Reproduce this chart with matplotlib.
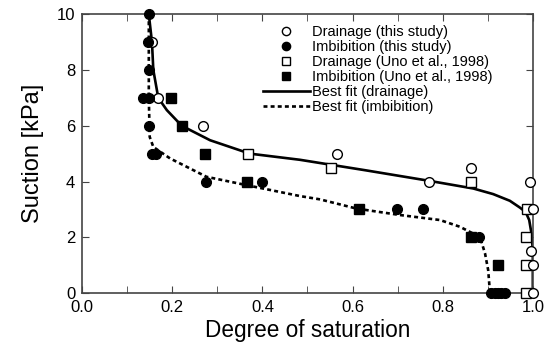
import matplotlib
matplotlib.use("Agg")
import matplotlib.pyplot as plt
from matplotlib.ticker import MultipleLocator

plt.rcParams['font.family'] = ['Liberation Sans', 'DejaVu Sans']

# Drainage (this study)
dr_s = [0.155, 0.169, 0.268, 0.565, 0.770, 0.862, 0.993, 1.000, 0.995, 1.000, 1.000]
dr_h = [9, 7, 6, 5, 4, 4.5, 4, 3, 1.5, 1, 0]

# Imbibition (this study)
im_s = [0.148, 0.146, 0.148, 0.136, 0.148, 0.148, 0.155, 0.163, 0.275, 0.400,
        0.698, 0.757, 0.880, 0.908, 0.915, 0.922, 0.930, 0.938]
im_h = [10, 9, 8, 7, 7, 6, 5, 5, 4, 4, 3, 3, 2, 0, 0, 0, 0, 0]

# Drainage (Uno et al., 1998)
dr_uno_s = [0.369, 0.553, 0.862, 0.986, 0.985, 0.985, 0.985]
dr_uno_h = [5, 4.5, 4, 3, 2, 1, 0]

# Imbibition (Uno et al., 1998)
im_uno_s = [0.197, 0.221, 0.273, 0.366, 0.614, 0.862, 0.923]
im_uno_h = [7, 6, 5, 4, 3, 2, 1]

# Best fit curves
fit_dr_s = [0.148, 0.155, 0.158, 0.169, 0.188, 0.221, 0.284, 0.372, 0.483,
            0.630, 0.772, 0.868, 0.912, 0.949, 0.971, 0.984, 0.992, 0.997,
            1.000, 1.000]
fit_dr_h = [10, 9, 8, 7, 6.56, 6, 5.48, 5.0, 4.78,
            4.40, 4.02, 3.75, 3.55, 3.31, 3.07, 2.91, 2.62, 2.14,
            1.54, 0]

fit_im_s = [0.148, 0.148, 0.150, 0.158, 0.195, 0.276, 0.365, 0.483, 0.528,
            0.609, 0.705, 0.794, 0.838, 0.867, 0.886, 0.894, 0.901, 0.905]
fit_im_h = [10, 7, 5.6, 5.24, 4.83, 4.17, 3.87, 3.48, 3.36,
            3.03, 2.80, 2.62, 2.38, 2.14, 1.84, 1.42, 0.82, 0]

fig = plt.figure(figsize=(5.51, 3.54), dpi=100)
ax = fig.add_axes([0.149, 0.172, 0.818, 0.788])

ms = 7
ax.plot(dr_s, dr_h, 'o', mfc='white', mec='black', ms=ms, mew=1.0,
        clip_on=False, zorder=4, label='Drainage (this study)')
ax.plot(im_s, im_h, 'o', mfc='black', mec='black', ms=ms, mew=1.0,
        clip_on=False, zorder=4, label='Imbibition (this study)')
ax.plot(dr_uno_s, dr_uno_h, 's', mfc='white', mec='black', ms=ms - 0.5, mew=1.0,
        clip_on=False, zorder=3, label='Drainage (Uno et al., 1998)')
ax.plot(im_uno_s, im_uno_h, 's', mfc='black', mec='black', ms=ms - 0.5, mew=1.0,
        clip_on=False, zorder=3, label='Imbibition (Uno et al., 1998)')
ax.plot(fit_dr_s, fit_dr_h, '-', color='black', lw=1.9, zorder=2,
        label='Best fit (drainage)')
ax.plot(fit_im_s, fit_im_h, color='black', lw=1.9, ls=(0, (1.5, 1.2)), zorder=2,
        label='Best fit (imbibition)')

ax.set_xlim(0, 1.0)
ax.set_ylim(0, 10)
ax.xaxis.set_major_locator(MultipleLocator(0.2))
ax.xaxis.set_minor_locator(MultipleLocator(0.1))
ax.yaxis.set_major_locator(MultipleLocator(2))
ax.xaxis.set_major_formatter(plt.FormatStrFormatter('%.1f'))
ax.tick_params(which='both', direction='in', top=True, right=True,
               labelsize=12, color='#444444', pad=5)
ax.tick_params(which='major', length=5)
ax.tick_params(which='minor', length=5)
for sp in ax.spines.values():
    sp.set_color('#444444')
    sp.set_linewidth(1.2)

ax.set_xlabel('Degree of saturation', fontsize=16.3, labelpad=3)
ax.set_ylabel('Suction [kPa]', fontsize=17, labelpad=9)

ax.legend(loc='upper left', frameon=False, fontsize=10.5, handlelength=3.2,
          handletextpad=0.2, labelspacing=0.07, borderaxespad=0, borderpad=0,
          markerscale=0.85, bbox_to_anchor=(0.401, 0.962))

fig.savefig('out.png', dpi=100)
